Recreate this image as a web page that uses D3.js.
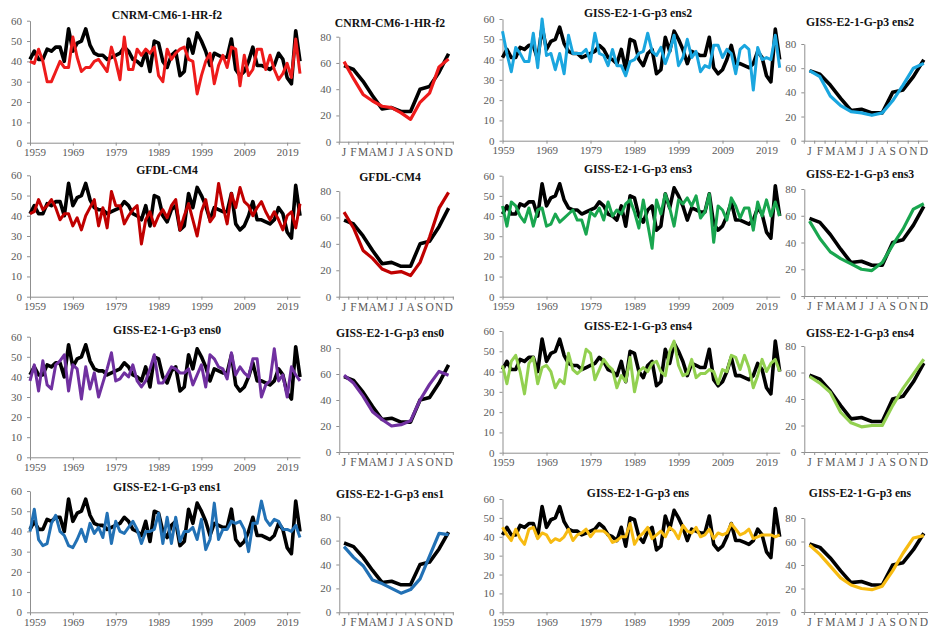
<!DOCTYPE html>
<html><head><meta charset="utf-8">
<script src="https://cdn.jsdelivr.net/npm/d3@7"></script>
<style>body{margin:0;background:#fff} svg{display:block}</style>
</head><body><svg id="c" width="928" height="629"></svg>
<script>
// ---------- DATA ----------
const years = [1959,1960,1961,1962,1963,1964,1965,1966,1967,1968,1969,1970,1971,1972,1973,1974,1975,1976,1977,1978,
1979,1980,1981,1982,1983,1984,1985,1986,1987,1988,1989,1990,1991,1992,1993,1994,1995,1996,1997,1998,
1999,2000,2001,2002,2003,2004,2005,2006,2007,2008,2009,2010,2011,2012,2013,2014,2015,2016,2017,2018,
2019,2020,2021,2022];
const months = ["J","F","M","A","M","J","J","A","S","O","N","D"];
const yearTicks = [1959,1969,1979,1989,1999,2009,2019];
const annualTicks = [0,10,20,30,40,50,60];
const monthlyTicks = [0,20,40,60,80];

const modelNames = ["CNRM-CM6-1-HR-f2","GFDL-CM4","GISS-E2-1-G-p3 ens0","GISS-E2-1-G-p3 ens1",
  "GISS-E2-1-G-p3 ens2","GISS-E2-1-G-p3 ens3","GISS-E2-1-G-p3 ens4","GISS-E2-1-G-p3 ens"];
const modelColors = ["#ee1b1b","#c00000","#7030a0","#2271b5","#1aa6df","#19a64f","#92d050","#f7bb12"];

const obsAnnual = [41,45,41,41,46,45,47,47,40,56, 45,49,50,56,48,44,43,43,41,42,
  43,44,47,45,41,40,38,45,35,50, 49,40,37,43,45,33,35,51,44,54, 50,45,38,44,43,42,42,51,36,33,
  35,40,47,38,38,37,36,38,44,41, 32,29,55,40];
const obsMonthly = [58,55,46,35,25,26,23,23,40,42,53,67];

const cnrmAnnual = [40,39,46,40,30,30,35,40,37,37, 52,42,35,37,37,40,41,38,35,47,
  40,31,52,36,36,46,43,46,44,47, 33,30,46,41,44,46,47,41,40,24, 33,40,44,29,38,43,37,47,46,28,
  43,33,36,46,46,36,43,36,31,34, 39,32,51,34];
const gfdlAnnual = [41,42,48,43,45,48,44,38,41,41, 35,39,33,40,44,48,35,44,34,52,
  45,45,36,40,43,45,26,38,42,35, 40,43,39,45,48,33,40,46,38,30, 42,48,37,40,56,45,36,51,44,54,
  47,45,40,44,47,42,38,42,38,33, 40,42,34,46];
const ens0Annual = [38,46,33,48,36,34,46,48,51,33, 46,44,29,45,34,42,30,37,44,52,
  38,39,42,40,46,38,35,38,44,51, 37,37,41,45,44,42,42,44,36,41, 46,35,51,49,45,44,39,52,41,45,
  42,40,49,49,30,36,38,54,38,41, 30,45,41,38];
const ens1Annual = [40,51,36,33,34,44,48,40,38,33, 32,36,41,35,44,39,42,37,49,34,
  45,40,39,42,45,41,34,40,40,41, 49,34,47,34,47,35,40,40,42,36, 46,31,36,54,36,41,41,45,44,45,
  41,30,44,44,55,46,43,46,45,41, 41,40,43,37];
const ens2Annual = [54,43,34,46,43,39,39,53,36,60, 42,43,35,43,33,52,43,43,43,45,
  39,53,43,42,37,45,37,37,32,39, 40,43,44,53,44,42,46,38,44,52, 37,41,50,41,44,34,37,36,47,47,
  41,45,43,33,45,47,45,25,46,40, 41,40,52,36];
const ens3Annual = [45,35,47,45,40,37,44,35,43,44, 35,36,41,37,39,41,43,38,38,31,
  42,40,44,38,47,40,43,41,46,48, 42,34,48,36,24,48,41,51,44,35, 48,46,49,45,50,39,42,51,27,45,
  43,38,49,45,39,44,44,33,47,40, 48,40,47,40];
const ens4Annual = [43,34,45,48,40,29,44,47,34,42, 43,40,32,36,34,49,41,39,41,51,
  49,36,41,46,43,41,32,38,35,47, 30,40,42,40,44,45,40,38,50,55, 43,38,39,46,37,39,39,41,40,34,
  41,40,48,47,41,48,42,32,38,46, 40,44,46,40];
const ensAnnual = [45,41,38,44,39,36,44,45,39,42, 41,37,39,38,40,44,38,41,42,44,
  40,43,43,43,41,37,38,40,40,47, 36,40,42,45,39,41,43,40,45,43, 39,46,43,42,45,40,41,44,39,42,
  41,42,47,44,41,42,44,39,40,41, 41,41,40,41];

const cnrmMonthly = [61,48,36,31,27,26,22,17,30,37,57,63];
const gfdlMonthly = [64,52,35,29,21,18,19,16,26,45,67,79];
const ens0Monthly = [59,53,43,31,25,20,21,24,40,52,62,59];
const ens1Monthly = [55,46,39,27,24,20,16,19,28,47,66,65];
const ens2Monthly = [58,53,37,29,24,23,21,23,33,46,60,64];
const ens3Monthly = [56,43,33,28,24,20,19,25,38,50,65,69];
const ens4Monthly = [57,52,45,30,22,19,20,20,35,48,59,70];
const ensMonthly  = [57,49,39,29,23,20,19,22,35,50,63,65];

const annualSeries = [cnrmAnnual,gfdlAnnual,ens0Annual,ens1Annual,ens2Annual,ens3Annual,ens4Annual,ensAnnual];
const monthlySeries = [cnrmMonthly,gfdlMonthly,ens0Monthly,ens1Monthly,ens2Monthly,ens3Monthly,ens4Monthly,ensMonthly];

// ---------- LAYOUT ----------
const annualLayout = [
  {x0:30,  x1:300,   yTop:20.7,  yBot:142.7, ty:15,    tx:167, firstShift:4.5},
  {x0:30,  x1:300,   yTop:175.3, yBot:296.7, ty:170,   tx:167, firstShift:4.5},
  {x0:30,  x1:300,   yTop:336.7, yBot:457.3, ty:330,   tx:167, firstShift:4.5},
  {x0:30,  x1:300,   yTop:491,   yBot:612.3, ty:487,   tx:167, firstShift:4.5},
  {x0:502.5,x1:779.7,yTop:19,    yBot:140.7, ty:13,    tx:638, firstShift:0.5},
  {x0:502.5,x1:779.7,yTop:175.7, yBot:296.7, ty:169,   tx:638, firstShift:0.5},
  {x0:502.5,x1:779.7,yTop:331,   yBot:452.7, ty:326,   tx:638, firstShift:0.5},
  {x0:502.5,x1:779.7,yTop:499,   yBot:612.3, ty:493,   tx:638, firstShift:0.5}
];
const monthlyLayout = [
  {x0:339.3,x1:453.3,yTop:36.7, yBot:141.7, ty:22.7, tx:390},
  {x0:339.3,x1:453.3,yTop:191,  yBot:296.7, ty:176.7,tx:390},
  {x0:339.3,x1:453.3,yTop:348,  yBot:452,   ty:333,  tx:390},
  {x0:339.3,x1:453.3,yTop:516.7,yBot:612.3, ty:493.3,tx:390},
  {x0:804.3,x1:929,  yTop:44,   yBot:140.7, ty:21.7, tx:860},
  {x0:804.3,x1:929,  yTop:189,  yBot:296,   ty:174,  tx:860},
  {x0:804.3,x1:929,  yTop:346,  yBot:452,   ty:333,  tx:860},
  {x0:804.3,x1:929,  yTop:518,  yBot:612,   ty:493,  tx:860}
];

const svg = d3.select("#c");
const FONT = "'Liberation Serif','Times New Roman',serif";
const AXIS = "#8f8f8f", LABEL = "#595959";

function styleAxis(g){
  g.attr("font-family",FONT).attr("font-size",11);
  g.select(".domain").attr("stroke",AXIS).attr("stroke-width",1);
  g.selectAll(".tick line").attr("stroke",AXIS);
  g.selectAll(".tick text").attr("fill",LABEL).style("font-family",FONT).style("font-size","11px");
}
function title(L,text){
  svg.append("text").attr("x",L.tx).attr("y",L.ty+4.3).attr("text-anchor","middle")
    .style("font-family",FONT).style("font-weight","bold").style("font-size","11.7px").attr("fill","#111").text(text);
}

// annual panels
annualLayout.forEach((L,i)=>{
  const x = d3.scaleLinear().domain([years[0],years[years.length-1]]).range([L.x0,L.x1]);
  const y = d3.scaleLinear().domain([0,60]).range([L.yBot,L.yTop]);
  const gy = svg.append("g").attr("transform",`translate(${L.x0},0)`)
    .call(d3.axisLeft(y).tickValues(annualTicks).tickSize(3).tickSizeOuter(0).tickPadding(5));
  styleAxis(gy);
  const gx = svg.append("g").attr("transform",`translate(0,${L.yBot})`)
    .call(d3.axisBottom(x).tickValues(yearTicks).tickFormat(d3.format("d")).tickSize(3).tickSizeOuter(0).tickPadding(3));
  styleAxis(gx);
  gx.selectAll(".tick text").filter(d=>d===yearTicks[0]).attr("dx",L.firstShift);
  const line = d3.line().x((d,j)=>x(years[j])).y(d=>y(d));
  svg.append("path").datum(obsAnnual).attr("d",line).attr("fill","none")
    .attr("stroke","#000").attr("stroke-width",3.6).attr("stroke-linejoin","round");
  svg.append("path").datum(annualSeries[i]).attr("d",line).attr("fill","none")
    .attr("stroke",modelColors[i]).attr("stroke-width",3).attr("stroke-linejoin","round");
  title(L,modelNames[i]);
});

// monthly panels
monthlyLayout.forEach((L,i)=>{
  const idx = months.map((m,j)=>j);
  const x = d3.scaleBand().domain(idx).range([L.x0,L.x1]);
  const y = d3.scaleLinear().domain([0,80]).range([L.yBot,L.yTop]);
  const gy = svg.append("g").attr("transform",`translate(${L.x0},0)`)
    .call(d3.axisLeft(y).tickValues(monthlyTicks).tickSize(3).tickSizeOuter(0).tickPadding(5));
  styleAxis(gy);
  const gx = svg.append("g").attr("transform",`translate(0,${L.yBot})`)
    .call(d3.axisBottom(x).tickFormat(j=>months[j]).tickSize(0).tickSizeOuter(0).tickPadding(6));
  styleAxis(gx);
  gx.selectAll(".tick text").style("font-size","11.5px");
  gx.selectAll(".bt").data(d3.range(13)).enter().append("line")
    .attr("x1",k=>L.x0+k*x.step()).attr("x2",k=>L.x0+k*x.step()).attr("y1",0).attr("y2",3).attr("stroke",AXIS);
  const cx = j=>x(j)+x.bandwidth()/2;
  const line = d3.line().x((d,j)=>cx(j)).y(d=>y(d));
  svg.append("path").datum(obsMonthly).attr("d",line).attr("fill","none")
    .attr("stroke","#000").attr("stroke-width",3.6).attr("stroke-linejoin","round");
  svg.append("path").datum(monthlySeries[i]).attr("d",line).attr("fill","none")
    .attr("stroke",modelColors[i]).attr("stroke-width",3.2).attr("stroke-linejoin","round");
  title(L,modelNames[i]);
});
</script></body></html>
